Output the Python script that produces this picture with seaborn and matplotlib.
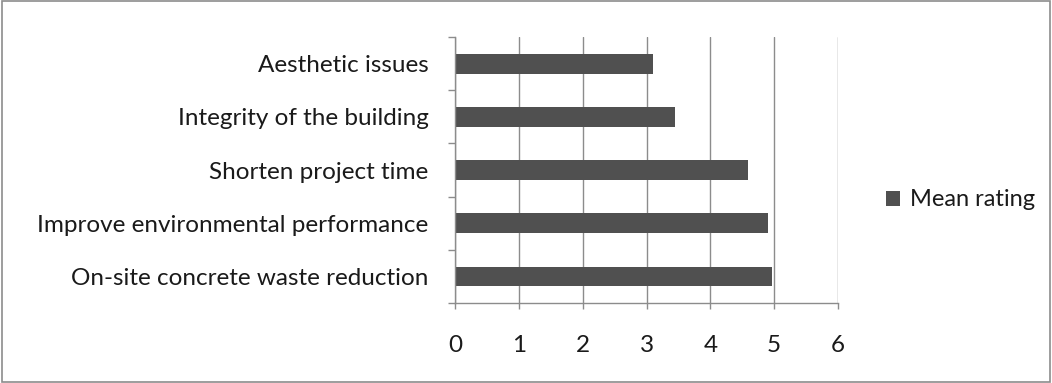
import matplotlib
matplotlib.use("Agg")
import matplotlib.pyplot as plt
import seaborn as sns
import pandas as pd
from matplotlib.patches import Rectangle
from matplotlib.ticker import FixedLocator

categories = ["Aesthetic issues", "Integrity of the building", "Shorten project time",
              "Improve environmental performance", "On-site concrete waste reduction"]
values = [3.10, 3.45, 4.59, 4.91, 4.96]
series_name = "Mean rating"
x_ticks = [0, 1, 2, 3, 4, 5, 6]

sns.set_theme(style="white")
plt.rcParams['font.family'] = ['Lato', 'DejaVu Sans']

df = pd.DataFrame({"category": categories, "value": values})

fig = plt.figure(figsize=(10.52, 3.83), dpi=100)
ax = fig.add_axes([0.4325, 0.209, 0.3641, 0.694])
bar_color = "#505050"
sns.barplot(data=df, y="category", x="value", orient="h", color=bar_color,
            width=0.37, saturation=1, ax=ax, edgecolor="none")

ax.set_xlim(0, 6)
ax.set_ylim(len(categories) - 0.5, -0.5)
ax.set_xticks(x_ticks)
ax.set_xticklabels([str(t) for t in x_ticks])
ax.set_xlabel("")
ax.set_ylabel("")
ax.xaxis.grid(True, color="#8c8c8c", linewidth=1)
ax.set_axisbelow(True)
for s in ["top", "right"]:
    ax.spines[s].set_visible(False)
for s in ["left", "bottom"]:
    ax.spines[s].set_color("#8c8c8c")
    ax.spines[s].set_linewidth(1)

ax.tick_params(axis="y", which="major", length=0, pad=19, labelsize=17.5, labelcolor="#1a1a1a")
ax.yaxis.set_minor_locator(FixedLocator([i - 0.5 for i in range(len(categories) + 1)]))
ax.tick_params(axis="y", which="minor", left=True, length=5, width=1, color="#8c8c8c", direction="out")
ax.tick_params(axis="x", which="major", bottom=True, length=4, width=1, color="#8c8c8c",
               direction="out", pad=19, labelsize=17.5, labelcolor="#1a1a1a")

handle = Rectangle((0, 0), 1, 1, facecolor=bar_color, edgecolor="none")
fig.legend([handle], [series_name], loc="center left", bbox_to_anchor=(0.822, 0.478),
           frameon=False, fontsize=17, handlelength=0.6, handleheight=0.6,
           handletextpad=0.4, labelcolor="#1a1a1a")

border = Rectangle((0.0015, 0.003), 0.997, 0.994, transform=fig.transFigure,
                   fill=False, edgecolor="#8c8c8c", linewidth=1.2)
fig.patches.append(border)

fig.savefig("out.png", dpi=100, facecolor="white")
